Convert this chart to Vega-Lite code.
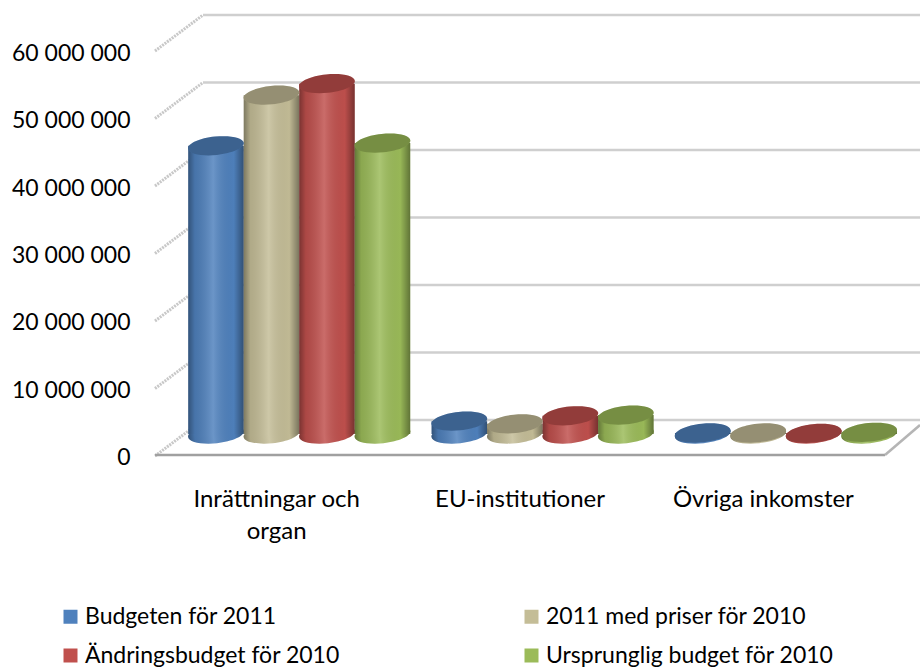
{
"$schema":"https://vega.github.io/schema/vega-lite/v6.json",
"width":730,"height":468,
"autosize":"none",
"padding":{"left":155,"right":35,"top":0,"bottom":200},
"background":"white",
"config":{"view":{"stroke":null},"font":"Lato"},
"datasets":{
"ticks":[{"tick":0},{"tick":10000000},{"tick":20000000},{"tick":30000000},{"tick":40000000},{"tick":50000000},{"tick":60000000}],
"bars":[
{"kategori":"Inrättningar och organ","serie":"Budgeten för 2011","belopp":42700000},
{"kategori":"Inrättningar och organ","serie":"2011 med priser för 2010","belopp":50200000},
{"kategori":"Inrättningar och organ","serie":"Ändringsbudget för 2010","belopp":51900000},
{"kategori":"Inrättningar och organ","serie":"Ursprunglig budget för 2010","belopp":43100000},
{"kategori":"EU-institutioner","serie":"Budgeten för 2011","belopp":1900000},
{"kategori":"EU-institutioner","serie":"2011 med priser för 2010","belopp":1500000},
{"kategori":"EU-institutioner","serie":"Ändringsbudget för 2010","belopp":2700000},
{"kategori":"EU-institutioner","serie":"Ursprunglig budget för 2010","belopp":2800000},
{"kategori":"Övriga inkomster","serie":"Budgeten för 2011","belopp":150000},
{"kategori":"Övriga inkomster","serie":"2011 med priser för 2010","belopp":150000},
{"kategori":"Övriga inkomster","serie":"Ändringsbudget för 2010","belopp":100000},
{"kategori":"Övriga inkomster","serie":"Ursprunglig budget för 2010","belopp":250000}
]},
"resolve":{"scale":{"x":"independent"}},
"layer":[
{"data":{"name":"ticks"},
 "encoding":{
  "y":{"field":"tick","type":"quantitative","scale":{"domain":[-1778000,67556000],"nice":false,"zero":false},
   "axis":{"title":null,"values":[0,10000000,20000000,30000000,40000000,50000000,60000000],"grid":false,"domain":false,"ticks":false,"labelPadding":25,"labelOffset":2,"labelFontSize":23,"labelColor":"#000000","labelFont":"Lato","labelExpr":"replace(format(datum.value,','),/,/g,' ')"}},
  "y2":{"field":"tick"},
  "x":{"datum":0,"type":"quantitative","scale":{"domain":[0,1],"nice":false,"zero":false},"axis":null},
  "x2":{"datum":1}
 },
 "layer":[
  {"mark":{"type":"rule","stroke":"#cfcfcf","strokeWidth":2.5,"xOffset":48,"x2Offset":35,"yOffset":-36,"y2Offset":-36}},
  {"mark":{"type":"rule","stroke":"#c8c8c8","strokeWidth":3,"strokeDash":[2,1],"x2Offset":-682,"y2Offset":-36}},
  {"transform":[{"filter":"datum.tick === 0"}],"mark":{"type":"rule","stroke":"#a0a0a0","strokeWidth":2.5,"yOffset":-1,"y2Offset":-1}},
  {"transform":[{"filter":"datum.tick === 0"}],"mark":{"type":"rule","stroke":"#b5b5b5","strokeWidth":2.5,"xOffset":730,"yOffset":-1,"y2Offset":-31,"x2Offset":35}}
 ]
},
{"data":{"name":"bars"},
 "encoding":{
  "x":{"field":"kategori","type":"nominal","sort":["Inrättningar och organ","EU-institutioner","Övriga inkomster"],
    "scale":{"paddingInner":0.0845,"paddingOuter":0.042},
    "axis":{"title":null,"domain":false,"ticks":false,"labelAngle":0,"labelFontSize":24,"labelColor":"#000000","labelPadding":19,"labelFont":"Lato","labelLimit":260,"labelLineHeight":32,"labelExpr":"datum.label === 'Inrättningar och organ' ? ['Inrättningar och','organ'] : datum.label"}},
  "xOffset":{"field":"serie","type":"nominal","sort":["Budgeten för 2011","2011 med priser för 2010","Ändringsbudget för 2010","Ursprunglig budget för 2010"],"scale":{"paddingInner":0,"paddingOuter":0,"range":[23,245]}}
 },
 "layer":[
  {"mark":{"type":"point","filled":true,"opacity":1,"shape":"M-1,0 A1,0.33 0 1 1 1,0 A1,0.33 0 1 1 -1,0 Z","size":3136,"angle":-6,"yOffset":-22},
   "encoding":{"y":{"datum":0,"type":"quantitative"},
    "color":{"field":"serie","type":"nominal",
     "scale":{"domain":["Budgeten för 2011","2011 med priser för 2010","Ändringsbudget för 2010","Ursprunglig budget för 2010"],"range":["#4f81bd","#c4bd97","#c0504d","#9bbb59"]},
     "legend":{"title":null,"orient":"none","legendX":-96,"legendY":605,"columns":2,"columnPadding":180,"rowPadding":15,"symbolType":"square","symbolSize":196,"symbolOpacity":1,"labelFontSize":23,"labelColor":"#000000","labelFont":"Lato","labelLimit":320,"labelOffset":3,"values":["Budgeten för 2011","Ändringsbudget för 2010","2011 med priser för 2010","Ursprunglig budget för 2010"]}}}},
  {"mark":{"type":"point","filled":true,"opacity":1,"shape":"M-1,0 A1,0.33 0 1 1 1,0 A1,0.33 0 1 1 -1,0 Z","size":3136,"angle":-6,"yOffset":-22,
    "fill":{"gradient":"linear","x1":0,"x2":1,"y1":0,"y2":0,"stops":[{"offset":0,"color":"rgba(0,0,0,0.36)"},{"offset":0.12,"color":"rgba(0,0,0,0.1)"},{"offset":0.45,"color":"rgba(255,255,255,0.16)"},{"offset":0.82,"color":"rgba(0,0,0,0.02)"},{"offset":1,"color":"rgba(0,0,0,0.38)"}]}},
   "encoding":{"y":{"datum":0,"type":"quantitative"}}},
  {"mark":{"type":"bar","yOffset":-22,"y2Offset":-22,"width":{"band":1}},
   "encoding":{"y":{"field":"belopp","type":"quantitative"},"y2":{"datum":0},
    "color":{"field":"serie","type":"nominal","legend":null}}},
  {"mark":{"type":"bar","yOffset":-22,"y2Offset":-22,"width":{"band":1},
    "fill":{"gradient":"linear","x1":0,"x2":1,"y1":0,"y2":0,"stops":[{"offset":0,"color":"rgba(0,0,0,0.36)"},{"offset":0.12,"color":"rgba(0,0,0,0.1)"},{"offset":0.45,"color":"rgba(255,255,255,0.16)"},{"offset":0.82,"color":"rgba(0,0,0,0.02)"},{"offset":1,"color":"rgba(0,0,0,0.38)"}]}},
   "encoding":{"y":{"field":"belopp","type":"quantitative"},"y2":{"datum":0}}},
  {"mark":{"type":"point","filled":true,"opacity":1,"shape":"M-1,0 A1,0.33 0 1 1 1,0 A1,0.33 0 1 1 -1,0 Z","size":3136,"angle":-6,"yOffset":-22},
   "encoding":{"y":{"field":"belopp","type":"quantitative"},
    "color":{"field":"serie","type":"nominal","legend":null}}},
  {"mark":{"type":"point","filled":true,"opacity":0.24,"color":"#000000","shape":"M-1,0 A1,0.33 0 1 1 1,0 A1,0.33 0 1 1 -1,0 Z","size":3136,"angle":-6,"yOffset":-22},
   "encoding":{"y":{"field":"belopp","type":"quantitative"}}}
 ]
}
]
}
